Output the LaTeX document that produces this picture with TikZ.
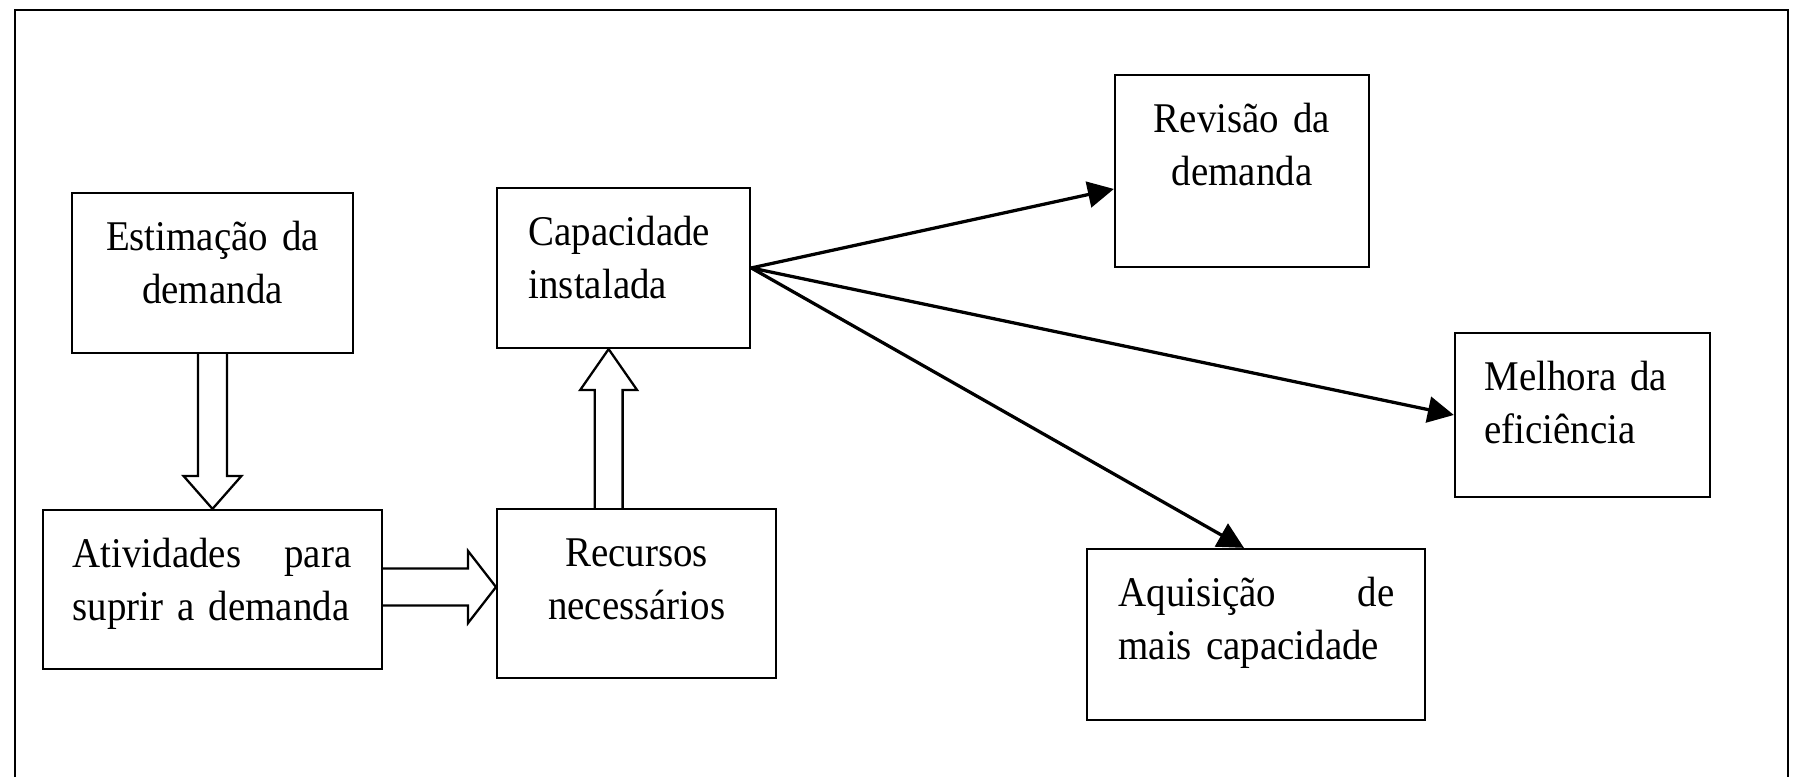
\documentclass[tikz,border=0pt]{standalone}
\usepackage{fontspec}
\setmainfont[FakeStretch=0.92]{Liberation Serif}
\usepackage{tikz}
\usetikzlibrary{arrows.meta,calc}

\begin{document}
\begin{tikzpicture}[
  font=\fontsize{13}{16.3}\selectfont,
  box/.style={draw,rectangle,line width=0.7pt,inner sep=0pt},
  txt/.style={inner sep=0pt},
  blockarrow/.style={draw,line width=0.7pt,line join=miter},
  link/.style={-{Triangle[length=8pt,width=8pt]},line width=1pt}
]

% -------------------------
% Geometry
% -------------------------
\def\xColA{2.295}
\def\xColB{5.357}
\def\xRev{13.414}
\def\xAqu{13.565}
\def\xMel{17.091}

\def\yEst{-2.948}
\def\yCap{-2.894}
\def\yRev{-1.847}
\def\yMel{-4.482}
\def\yAtv{-6.367}
\def\yRec{-6.410}
\def\yAqu{-6.853}

\def\dBase{0.637cm}

\useasboundingbox (0,0) rectangle (19.451,-8.392);

% outer frame (open at the bottom)
\draw[line width=0.7pt] (0.162,-8.392) -- (0.162,-0.108) -- (19.310,-0.108) -- (19.310,-8.392);

% -------------------------
% Boxes
% -------------------------
\node[box,minimum width=3.035cm,minimum height=1.728cm] (est) at (\xColA,\yEst) {};
\node[box,minimum width=3.661cm,minimum height=1.717cm] (atv) at (\xColA,\yAtv) {};
\node[box,minimum width=2.732cm,minimum height=1.728cm,anchor=west] (cap) at (\xColB,\yCap) {};
\node[box,minimum width=3.013cm,minimum height=1.825cm,anchor=west] (rec) at (\xColB,\yRec) {};
\node[box,minimum width=2.743cm,minimum height=2.074cm] (rev) at (\xRev,\yRev) {};
\node[box,minimum width=2.754cm,minimum height=1.771cm] (mel) at (\xMel,\yMel) {};
\node[box,minimum width=3.650cm,minimum height=1.847cm] (aqu) at (\xAqu,\yAqu) {};

% -------------------------
% Texts
% -------------------------
\node[txt,text width=3.035cm,align=center,anchor=base] (estTxt) at ([yshift=-\dBase]est.north) {Estimação da\\demanda};
\node[txt,text width=3.013cm,align=left,anchor=base west] (atvTxt) at ([xshift=0.324cm,yshift=-\dBase]atv.north west) {Atividades\hfill para\\suprir a demanda};
\node[txt,text width=2.3cm,align=left,anchor=base west] (capTxt) at ([xshift=0.346cm,yshift=-\dBase]cap.north west) {Capacidade\\instalada};
\node[txt,text width=3.013cm,align=center,anchor=base] (recTxt) at ([yshift=-\dBase]rec.north) {Recursos\\necessários};
\node[txt,text width=2.743cm,align=center,anchor=base] (revTxt) at ([yshift=-\dBase]rev.north) {Revisão da\\demanda};
\node[txt,text width=2.3cm,align=left,anchor=base west] (melTxt) at ([xshift=0.324cm,yshift=-\dBase]mel.north west) {Melhora da\\eficiência};
\node[txt,text width=2.981cm,align=left,anchor=base west] (aquTxt) at ([xshift=0.346cm,yshift=-\dBase]aqu.north west) {Aquisição\hfill de\\mais capacidade};

% -------------------------
% Hollow block arrows
% -------------------------
\coordinate (dnTip) at (atv.north);
\coordinate (upTip) at ([xshift=-0.162cm]cap.south);
\coordinate (upBase) at (upTip |- rec.north);
\coordinate (rtTip) at ([yshift=0.07cm]rec.west);
\coordinate (rtBase) at (atv.east |- rtTip);

\draw[blockarrow] ($(est.south)+(-0.157,0)$) |- ($(dnTip)+(-0.313,0.356)$) -- (dnTip)
  -- ($(dnTip)+(0.313,0.356)$) -| ($(est.south)+(0.157,0)$);
\draw[blockarrow] ($(upBase)+(-0.151,0)$) |- ($(upTip)+(-0.308,-0.443)$) -- (upTip)
  -- ($(upTip)+(0.308,-0.443)$) -| ($(upBase)+(0.151,0)$);
\draw[blockarrow] ($(rtBase)+(0,0.2)$) -| ($(rtTip)+(-0.302,0.389)$) -- (rtTip)
  -- ($(rtTip)+(-0.302,-0.389)$) |- ($(rtBase)+(0,-0.2)$);

% -------------------------
% Arrows out of the installed capacity
% -------------------------
\draw[link] (cap.east) -- ([yshift=-0.194cm]rev.west);
\draw[link] (cap.east) -- (mel.west);
\draw[link] (cap.east) -- ([xshift=-0.13cm]aqu.north);

\end{tikzpicture}
\end{document}
